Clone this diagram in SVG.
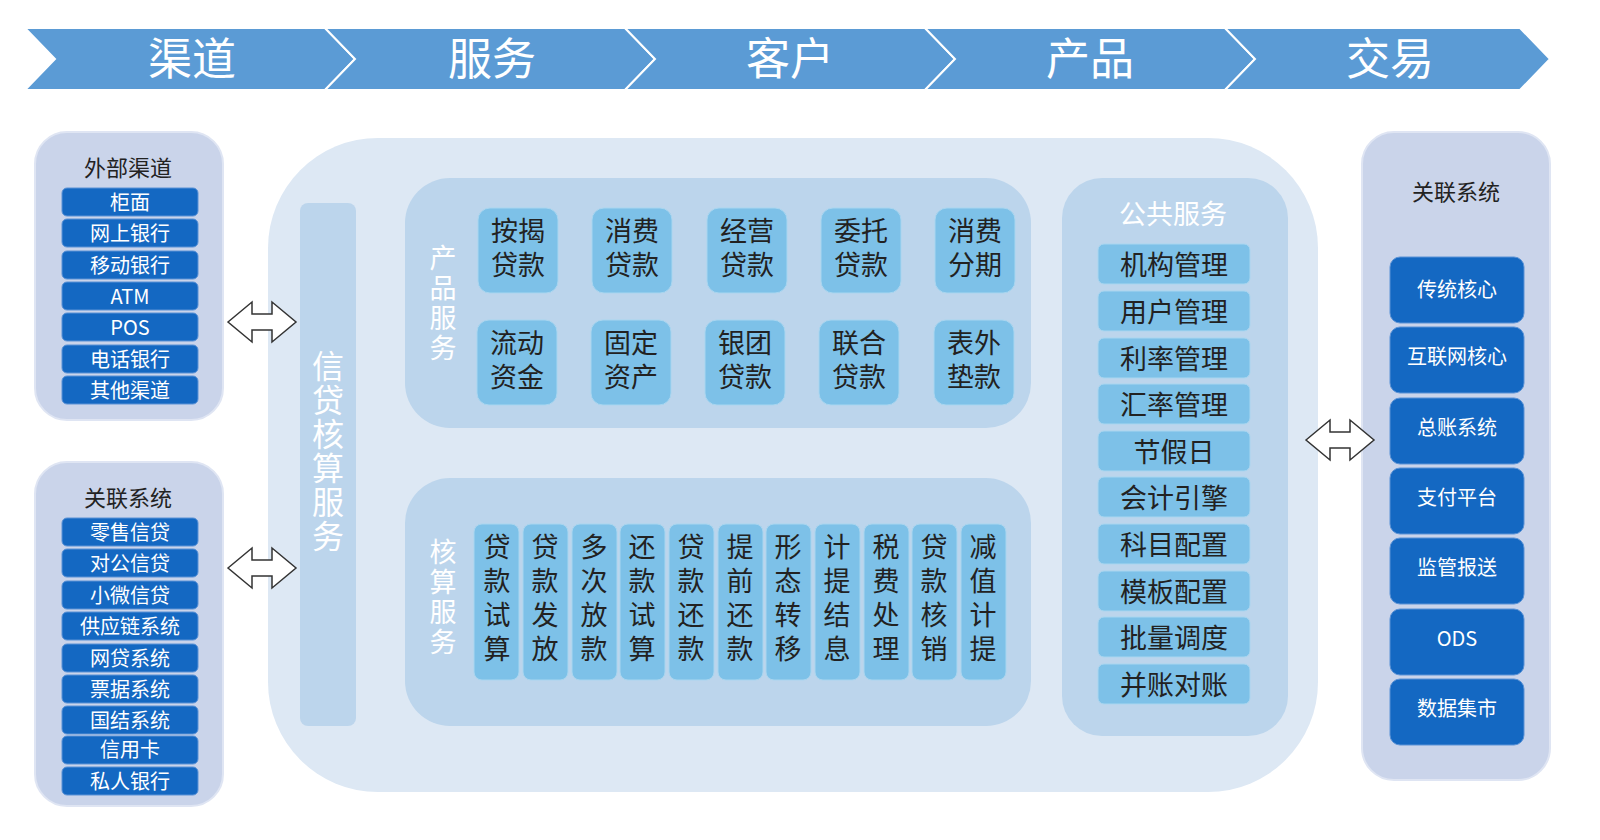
<svg xmlns="http://www.w3.org/2000/svg" width="1600" height="840" viewBox="0 0 1600 840">
<style>
text{font-family:"Noto Sans CJK SC","Noto Sans",sans-serif;text-anchor:middle}
.hd{fill:#5b9bd5;stroke:#fff;stroke-width:2}
.ht{fill:#fff;font-size:44px}
.side{fill:#cad4ea;stroke:#dfe5f3;stroke-width:2}
.b{fill:#1468c2;stroke:#5a92d6;stroke-width:1}
.bt{fill:#fff;font-size:20px}
.st{fill:#222;font-size:22px}
.inner{fill:#bcd5ec}
.tile{fill:#7dc1e8;stroke:#a9d6f0;stroke-width:1}
.tt{fill:#222;font-size:27px}
.wl{fill:#fff;font-size:27px}
.arr{fill:#fff;stroke:#333;stroke-width:1.5}
</style>
<g id="header">
<polygon class="hd" points="25,28 325,28 355,59 325,90 25,90 55,59"/>
<polygon class="hd" points="325,28 625,28 655,59 625,90 325,90 355,59"/>
<polygon class="hd" points="625,28 925,28 955,59 925,90 625,90 655,59"/>
<polygon class="hd" points="925,28 1225,28 1255,59 1225,90 925,90 955,59"/>
<polygon class="hd" points="1225,28 1520,28 1550,59 1520,90 1225,90 1255,59"/>
<text class="ht" x="192" y="75">渠道</text>
<text class="ht" x="492" y="75">服务</text>
<text class="ht" x="790" y="75">客户</text>
<text class="ht" x="1090" y="75">产品</text>
<text class="ht" x="1390" y="75">交易</text>
</g>
<g id="ext-channels">
<rect class="side" x="35" y="132" width="188" height="288" rx="32"/>
<text class="st" x="128" y="176">外部渠道</text>
<rect class="b" x="62" y="188" width="136" height="28" rx="5"/><text class="bt" x="130" y="210">柜面</text>
<rect class="b" x="62" y="219" width="136" height="28" rx="5"/><text class="bt" x="130" y="241">网上银行</text>
<rect class="b" x="62" y="251" width="136" height="28" rx="5"/><text class="bt" x="130" y="273">移动银行</text>
<rect class="b" x="62" y="282" width="136" height="28" rx="5"/><text class="bt" x="130" y="304">ATM</text>
<rect class="b" x="62" y="313" width="136" height="28" rx="5"/><text class="bt" x="130" y="335">POS</text>
<rect class="b" x="62" y="345" width="136" height="28" rx="5"/><text class="bt" x="130" y="367">电话银行</text>
<rect class="b" x="62" y="376" width="136" height="28" rx="5"/><text class="bt" x="130" y="398">其他渠道</text>
</g>
<g id="rel-systems-left">
<rect class="side" x="35" y="462" width="188" height="344" rx="32"/>
<text class="st" x="128" y="506">关联系统</text>
<rect class="b" x="62" y="518" width="136" height="28" rx="5"/><text class="bt" x="130" y="540">零售信贷</text>
<rect class="b" x="62" y="549" width="136" height="28" rx="5"/><text class="bt" x="130" y="571">对公信贷</text>
<rect class="b" x="62" y="581" width="136" height="28" rx="5"/><text class="bt" x="130" y="603">小微信贷</text>
<rect class="b" x="62" y="612" width="136" height="28" rx="5"/><text class="bt" x="130" y="634">供应链系统</text>
<rect class="b" x="62" y="644" width="136" height="28" rx="5"/><text class="bt" x="130" y="666">网贷系统</text>
<rect class="b" x="62" y="675" width="136" height="28" rx="5"/><text class="bt" x="130" y="697">票据系统</text>
<rect class="b" x="62" y="706" width="136" height="28" rx="5"/><text class="bt" x="130" y="728">国结系统</text>
<rect class="b" x="62" y="736" width="136" height="28" rx="5"/><text class="bt" x="130" y="757">信用卡</text>
<rect class="b" x="62" y="767" width="136" height="28" rx="5"/><text class="bt" x="130" y="789">私人银行</text>
</g>
<g id="core">
<rect x="268" y="138" width="1050" height="654" rx="110" fill="#dde8f4"/>
<rect class="inner" x="300" y="203" width="56" height="523" rx="8"/>
<text fill="#fff" font-size="32" x="328"><tspan x="328" y="378">信</tspan><tspan x="328" y="412">贷</tspan><tspan x="328" y="446">核</tspan><tspan x="328" y="480">算</tspan><tspan x="328" y="514">服</tspan><tspan x="328" y="548">务</tspan></text>
</g>
<g id="product-services">
<rect class="inner" x="405" y="178" width="626" height="250" rx="45"/>
<text class="wl" font-size="26"><tspan x="443" y="268">产</tspan><tspan x="443" y="298">品</tspan><tspan x="443" y="328">服</tspan><tspan x="443" y="358">务</tspan></text>
<g id="prod-tiles">
<rect class="tile" x="478" y="208" width="80" height="85" rx="12"/><text class="tt"><tspan x="518" y="241">按揭</tspan><tspan x="518" y="275">贷款</tspan></text>
<rect class="tile" x="592" y="208" width="80" height="85" rx="12"/><text class="tt"><tspan x="632" y="241">消费</tspan><tspan x="632" y="275">贷款</tspan></text>
<rect class="tile" x="707" y="208" width="80" height="85" rx="12"/><text class="tt"><tspan x="747" y="241">经营</tspan><tspan x="747" y="275">贷款</tspan></text>
<rect class="tile" x="821" y="208" width="80" height="85" rx="12"/><text class="tt"><tspan x="861" y="241">委托</tspan><tspan x="861" y="275">贷款</tspan></text>
<rect class="tile" x="935" y="208" width="80" height="85" rx="12"/><text class="tt"><tspan x="975" y="241">消费</tspan><tspan x="975" y="275">分期</tspan></text>
<rect class="tile" x="477" y="320" width="80" height="85" rx="12"/><text class="tt"><tspan x="517" y="353">流动</tspan><tspan x="517" y="387">资金</tspan></text>
<rect class="tile" x="591" y="320" width="80" height="85" rx="12"/><text class="tt"><tspan x="631" y="353">固定</tspan><tspan x="631" y="387">资产</tspan></text>
<rect class="tile" x="705" y="320" width="80" height="85" rx="12"/><text class="tt"><tspan x="745" y="353">银团</tspan><tspan x="745" y="387">贷款</tspan></text>
<rect class="tile" x="819" y="320" width="80" height="85" rx="12"/><text class="tt"><tspan x="859" y="353">联合</tspan><tspan x="859" y="387">贷款</tspan></text>
<rect class="tile" x="934" y="320" width="80" height="85" rx="12"/><text class="tt"><tspan x="974" y="353">表外</tspan><tspan x="974" y="387">垫款</tspan></text>
</g>
</g>
<g id="accounting-services">
<rect class="inner" x="405" y="478" width="626" height="248" rx="45"/>
<text class="wl" font-size="26"><tspan x="443" y="562">核</tspan><tspan x="443" y="592">算</tspan><tspan x="443" y="622">服</tspan><tspan x="443" y="652">务</tspan></text>
<g id="acc-tiles">
<rect class="tile" x="474" y="524" width="45" height="156" rx="8"/><text class="tt"><tspan x="497" y="557">贷</tspan><tspan x="497" y="591">款</tspan><tspan x="497" y="625">试</tspan><tspan x="497" y="659">算</tspan></text>
<rect class="tile" x="523" y="524" width="45" height="156" rx="8"/><text class="tt"><tspan x="545" y="557">贷</tspan><tspan x="545" y="591">款</tspan><tspan x="545" y="625">发</tspan><tspan x="545" y="659">放</tspan></text>
<rect class="tile" x="572" y="524" width="45" height="156" rx="8"/><text class="tt"><tspan x="594" y="557">多</tspan><tspan x="594" y="591">次</tspan><tspan x="594" y="625">放</tspan><tspan x="594" y="659">款</tspan></text>
<rect class="tile" x="620" y="524" width="45" height="156" rx="8"/><text class="tt"><tspan x="642" y="557">还</tspan><tspan x="642" y="591">款</tspan><tspan x="642" y="625">试</tspan><tspan x="642" y="659">算</tspan></text>
<rect class="tile" x="669" y="524" width="45" height="156" rx="8"/><text class="tt"><tspan x="691" y="557">贷</tspan><tspan x="691" y="591">款</tspan><tspan x="691" y="625">还</tspan><tspan x="691" y="659">款</tspan></text>
<rect class="tile" x="718" y="524" width="45" height="156" rx="8"/><text class="tt"><tspan x="740" y="557">提</tspan><tspan x="740" y="591">前</tspan><tspan x="740" y="625">还</tspan><tspan x="740" y="659">款</tspan></text>
<rect class="tile" x="766" y="524" width="45" height="156" rx="8"/><text class="tt"><tspan x="788" y="557">形</tspan><tspan x="788" y="591">态</tspan><tspan x="788" y="625">转</tspan><tspan x="788" y="659">移</tspan></text>
<rect class="tile" x="815" y="524" width="45" height="156" rx="8"/><text class="tt"><tspan x="837" y="557">计</tspan><tspan x="837" y="591">提</tspan><tspan x="837" y="625">结</tspan><tspan x="837" y="659">息</tspan></text>
<rect class="tile" x="864" y="524" width="45" height="156" rx="8"/><text class="tt"><tspan x="886" y="557">税</tspan><tspan x="886" y="591">费</tspan><tspan x="886" y="625">处</tspan><tspan x="886" y="659">理</tspan></text>
<rect class="tile" x="912" y="524" width="45" height="156" rx="8"/><text class="tt"><tspan x="934" y="557">贷</tspan><tspan x="934" y="591">款</tspan><tspan x="934" y="625">核</tspan><tspan x="934" y="659">销</tspan></text>
<rect class="tile" x="961" y="524" width="45" height="156" rx="8"/><text class="tt"><tspan x="983" y="557">减</tspan><tspan x="983" y="591">值</tspan><tspan x="983" y="625">计</tspan><tspan x="983" y="659">提</tspan></text>
</g>
</g>
<g id="public-services">
<rect class="inner" x="1062" y="178" width="226" height="558" rx="40"/>
<text class="wl" font-size="26" x="1173" y="224">公共服务</text>
<rect class="tile" x="1098" y="244" width="152" height="40" rx="6"/><text class="tt" x="1174" y="275">机构管理</text>
<rect class="tile" x="1098" y="291" width="152" height="40" rx="6"/><text class="tt" x="1174" y="322">用户管理</text>
<rect class="tile" x="1098" y="338" width="152" height="40" rx="6"/><text class="tt" x="1174" y="369">利率管理</text>
<rect class="tile" x="1098" y="384" width="152" height="40" rx="6"/><text class="tt" x="1174" y="415">汇率管理</text>
<rect class="tile" x="1098" y="431" width="152" height="40" rx="6"/><text class="tt" x="1174" y="462">节假日</text>
<rect class="tile" x="1098" y="477" width="152" height="40" rx="6"/><text class="tt" x="1174" y="508">会计引擎</text>
<rect class="tile" x="1098" y="524" width="152" height="40" rx="6"/><text class="tt" x="1174" y="555">科目配置</text>
<rect class="tile" x="1098" y="571" width="152" height="40" rx="6"/><text class="tt" x="1174" y="602">模板配置</text>
<rect class="tile" x="1098" y="617" width="152" height="40" rx="6"/><text class="tt" x="1174" y="648">批量调度</text>
<rect class="tile" x="1098" y="664" width="152" height="40" rx="6"/><text class="tt" x="1174" y="695">并账对账</text>
</g>
<g id="rel-systems-right">
<rect class="side" x="1362" y="132" width="188" height="648" rx="32"/>
<text class="st" x="1456" y="200">关联系统</text>
<rect class="b" x="1390" y="257" width="134" height="66" rx="10"/><text class="bt" x="1457" y="297">传统核心</text>
<rect class="b" x="1390" y="327" width="134" height="66" rx="10"/><text class="bt" x="1457" y="364">互联网核心</text>
<rect class="b" x="1390" y="398" width="134" height="66" rx="10"/><text class="bt" x="1457" y="435">总账系统</text>
<rect class="b" x="1390" y="468" width="134" height="66" rx="10"/><text class="bt" x="1457" y="505">支付平台</text>
<rect class="b" x="1390" y="538" width="134" height="66" rx="10"/><text class="bt" x="1457" y="575">监管报送</text>
<rect class="b" x="1390" y="609" width="134" height="66" rx="10"/><text class="bt" x="1457" y="646">ODS</text>
<rect class="b" x="1390" y="679" width="134" height="66" rx="10"/><text class="bt" x="1457" y="716">数据集市</text>
</g>
<g id="connectors">
<polygon class="arr" points="228,322 252,302 252,314 272,314 272,302 296,322 272,342 272,330 252,330 252,342"/>
<polygon class="arr" points="228,568 252,548 252,560 272,560 272,548 296,568 272,588 272,576 252,576 252,588"/>
<polygon class="arr" points="1306,440 1330,420 1330,432 1350,432 1350,420 1374,440 1350,460 1350,448 1330,448 1330,460"/>
</g>
</svg>
